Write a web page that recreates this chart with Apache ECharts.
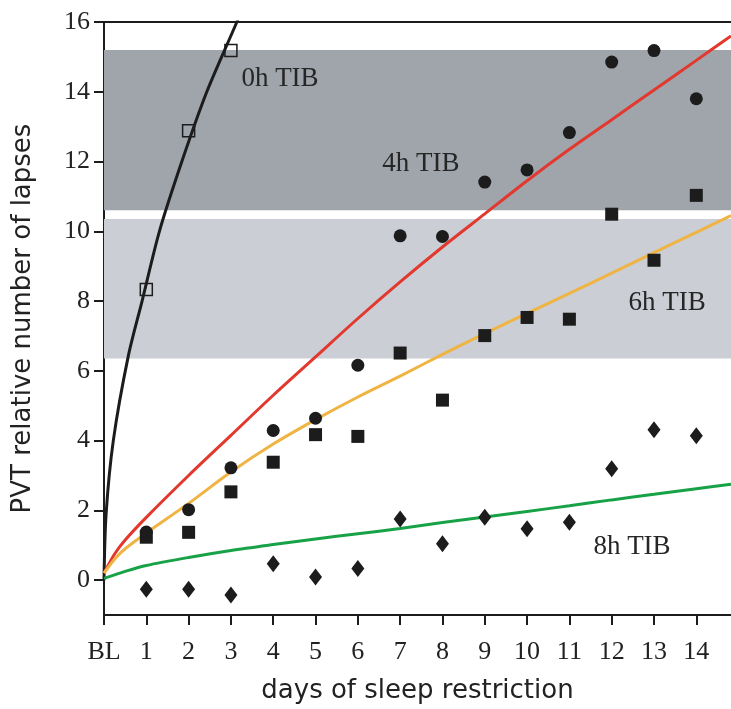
<!DOCTYPE html>
<html>
<head>
<meta charset="utf-8">
<script src="https://cdn.jsdelivr.net/npm/echarts@6/dist/echarts.min.js"></script>
<style>
  html, body { margin: 0; padding: 0; background: #fff; }
  #chart { width: 731px; height: 709px; }
</style>
</head>
<body>
<div id="chart"></div>
<script>
// days of sleep restriction (BL = 0)
var days = [1, 2, 3, 4, 5, 6, 7, 8, 9, 10, 11, 12, 13, 14];
var dayTicks = [0, 1, 2, 3, 4, 5, 6, 7, 8, 9, 10, 11, 12, 13, 14];
var lapseTicks = [0, 2, 4, 6, 8, 10, 12, 14, 16];

// measured group means
var tib0h = [8.33, 12.88, 15.18];
var tib4h = [1.38, 2.02, 3.22, 4.29, 4.64, 6.16, 9.87, 9.85, 11.41, 11.76, 12.83, 14.85, 15.18, 13.8];
var tib6h = [1.23, 1.37, 2.53, 3.38, 4.17, 4.12, 6.51, 5.16, 7.01, 7.53, 7.48, 10.49, 9.17, 11.03];
var tib8h = [-0.26, -0.26, -0.43, 0.47, 0.09, 0.33, 1.75, 1.04, 1.8, 1.47, 1.66, 3.19, 4.31, 4.14];

// fitted curves as [day, lapses]
var fit0h = [[0, 0], [0.05, 1.9], [0.22, 4.0], [0.57, 6.4], [0.9, 8.0], [1.31, 10], [1.84, 12], [2.43, 14], [3.14, 16], [3.3, 16.5]];
var fit4h = [[0, 0.2], [0.25, 0.75], [0.5, 1.15], [1, 1.8], [2, 3.0], [3, 4.15], [4, 5.3], [5, 6.4], [6, 7.5], [7, 8.55], [8, 9.55], [9, 10.5], [10, 11.45], [11, 12.35], [12, 13.2], [13, 14.05], [14, 14.9], [14.82, 15.6]];
var fit6h = [[0, 0.2], [0.25, 0.6], [0.5, 0.9], [1, 1.35], [2, 2.2], [3, 3.1], [4, 3.9], [5, 4.6], [6, 5.25], [7, 5.85], [8, 6.47], [9, 7.07], [10, 7.65], [11, 8.22], [12, 8.8], [13, 9.39], [14, 9.97], [14.82, 10.45]];
var fit8h = [[0, 0.05], [0.5, 0.25], [1, 0.42], [2, 0.65], [3, 0.85], [4, 1.02], [5, 1.18], [6, 1.33], [7, 1.48], [8, 1.65], [9, 1.81], [10, 1.97], [11, 2.13], [12, 2.3], [13, 2.46], [14, 2.62], [14.82, 2.75]];

// shaded ranges
var bandDark = [10.6, 15.2];
var bandLight = [6.35, 10.35];

// text labels [day, lapses, text]
var tibLabels = [[4.16, 14.37, '0h TIB'], [7.49, 11.93, '4h TIB'], [13.31, 7.95, '6h TIB'], [12.48, 0.94, '8h TIB']];

var pair = function (vals) {
    return vals.map(function (v, i) { return [days[i], v]; });
};

var ink = '#1c1c1c';
var serif = 'Liberation Serif';
var sans = 'DejaVu Sans';

var curve = function (data, color) {
    return {
        type: 'line', data: data, smooth: 0.3,
        showSymbol: false, z: 3, silent: true,
        lineStyle: { color: color, width: 3 }
    };
};

var chart = echarts.init(document.getElementById('chart'));

chart.setOption({
    animation: false,
    backgroundColor: '#fff',
    grid: { left: 104, right: 0, top: 22, bottom: 88 },
    xAxis: [
        {
            type: 'value',
            min: 0,
            max: 14.82,
            name: 'days of sleep restriction',
            nameLocation: 'middle',
            nameGap: 63,
            nameTextStyle: { fontFamily: sans, fontSize: 26, color: '#222' },
            axisLine: { show: true, onZero: false, lineStyle: { color: ink, width: 2 } },
            axisTick: { show: true, customValues: dayTicks, length: 10, lineStyle: { color: ink, width: 2 } },
            axisLabel: {
                customValues: dayTicks,
                margin: 24,
                fontFamily: serif,
                fontSize: 26,
                color: '#222',
                formatter: function (v) { return v === 0 ? 'BL' : v; }
            },
            splitLine: { show: false }
        },
        {
            type: 'value',
            position: 'top',
            min: 0,
            max: 14.82,
            axisLine: { show: true, onZero: false, lineStyle: { color: ink, width: 2 } },
            axisTick: { show: false },
            axisLabel: { show: false },
            splitLine: { show: false }
        }
    ],
    yAxis: {
        type: 'value',
        min: -1,
        max: 16,
        name: 'PVT relative number of lapses',
        nameLocation: 'middle',
        nameGap: 68,
        nameTextStyle: { fontFamily: sans, fontSize: 26, color: '#222' },
        axisLine: { show: true, onZero: false, lineStyle: { color: ink, width: 2 } },
        axisTick: { show: true, customValues: lapseTicks, length: 10, lineStyle: { color: ink, width: 2 } },
        axisLabel: { customValues: lapseTicks, margin: 14, fontFamily: serif, fontSize: 26, color: '#222' },
        splitLine: { show: false }
    },
    series: [
        {
            type: 'line',
            data: [],
            z: 1,
            silent: true,
            markArea: {
                silent: true,
                data: [
                    [{ xAxis: 0, yAxis: bandDark[0], itemStyle: { color: '#9fa5ab', opacity: 1 } }, { xAxis: 14.82, yAxis: bandDark[1] }],
                    [{ xAxis: 0, yAxis: bandLight[0], itemStyle: { color: '#cbced5', opacity: 1 } }, { xAxis: 14.82, yAxis: bandLight[1] }]
                ]
            }
        },
        curve(fit0h, ink),
        curve(fit4h, '#e2382e'),
        curve(fit6h, '#efb443'),
        curve(fit8h, '#18a247'),
        {
            type: 'scatter', data: pair(tib0h), symbol: 'rect', symbolSize: 12, z: 4,
            itemStyle: { color: 'rgba(0,0,0,0)', borderColor: ink, borderWidth: 1.5, opacity: 1 }
        },
        { type: 'scatter', data: pair(tib4h), symbol: 'circle', symbolSize: 13, z: 4, itemStyle: { color: ink, opacity: 1 } },
        { type: 'scatter', data: pair(tib6h), symbol: 'rect', symbolSize: 13, z: 4, itemStyle: { color: ink, opacity: 1 } },
        { type: 'scatter', data: pair(tib8h), symbol: 'diamond', symbolSize: [13, 17], z: 4, itemStyle: { color: ink, opacity: 1 } },
        {
            type: 'scatter',
            data: tibLabels,
            symbolSize: 0,
            z: 5,
            silent: true,
            itemStyle: { opacity: 1 },
            label: {
                show: true,
                position: 'inside',
                formatter: function (p) { return p.data[2]; },
                fontFamily: serif,
                fontSize: 27,
                color: '#262626'
            }
        }
    ]
});
</script>
</body>
</html>
